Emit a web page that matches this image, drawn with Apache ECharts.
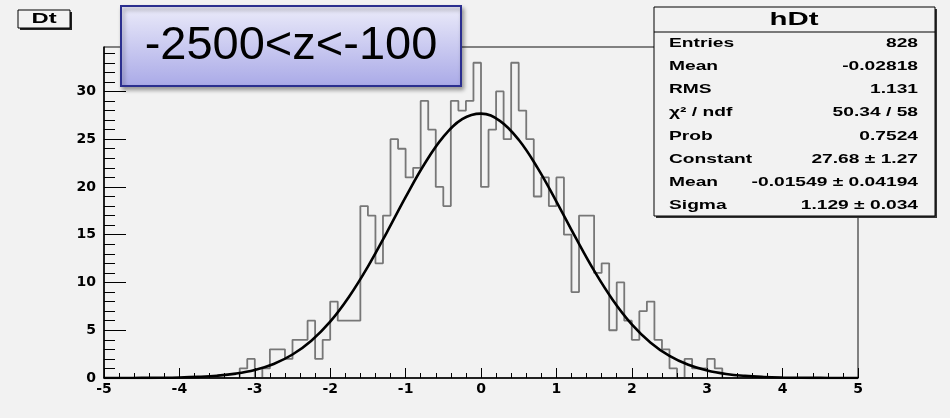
<!DOCTYPE html>
<html><head><meta charset="utf-8">
<script src="https://cdn.jsdelivr.net/npm/echarts@6/dist/echarts.min.js"></script>
<style>html,body{margin:0;padding:0;background:#f2f2f2}#c{width:950px;height:418px}</style>
</head><body><div id="c"></div>
<script>
// Histogram hDt: 100 bins from -5 to 5
const binLow = -5;
const binWidth = 0.1;
const counts = [
  0,0,0,0,0,0,0,0,0,0, 0,0,0,0,0,0,0,0,
  1,2,0,1,3,3,2,4,4,6,2,4,
  8,6,6,6,18,17,12,17,
  25,24,21,22,29,26,20,18,
  29,28,29,33,20,26,30,25,
  33,28,25,19,21,18,21,15,
  9,17,17,11,12,5,10,6,
  4,7,8,4,3,1,0,2,1,1,2,1,
  0,0,0,0,0,0,0,0,0,0, 0,0,0,0,0,0,0,0
];
// Gaussian fit curve
const fitX = [-5,-4.75,-4.5,-4.25,-4,-3.75,-3.5,-3.25,-3,-2.75,-2.5,-2.25,-2,-1.75,-1.5,-1.25,-1,-0.75,-0.5,-0.25,0,
  0.25,0.5,0.75,1,1.25,1.5,1.75,2,2.25,2.5,2.75,3,3.25,3.5,3.75,4,4.25,4.5,4.75,5];
const fitY = [0,0,0.01,0.02,0.05,0.12,0.24,0.46,0.84,1.47,2.46,3.91,5.90,8.51,11.66,15.23,18.93,22.40,25.24,27.09,27.68,
  26.92,24.94,21.99,18.47,14.77,11.24,8.15,5.62,3.70,2.31,1.38,0.78,0.42,0.22,0.11,0.05,0.02,0.01,0,0];
const xMin = -5, xMax = 5, xInterval = 1;
const yMax = 34.65;
const yMajorTicks = [0,5,10,15,20,25,30];
const yMinorTicks = [0,1,2,3,4,5,6,7,8,9,10,11,12,13,14,15,16,17,18,19,20,21,22,23,24,25,26,27,28,29,30,31,32,33,34];
const histTitle = 'Dt';
const rangeLabel = '-2500<z<-100';
const statsTitle = 'hDt';
const statLabels = ['Entries','Mean','RMS','\u03c7\u00b2 / ndf','Prob','Constant','Mean','Sigma'];
const statValues = ['828','-0.02818','1.131','50.34 / 58','0.7524','27.68 \u00b1 1.27','-0.01549 \u00b1 0.04194','1.129 \u00b1 0.034'];

const histData = counts.map((c, i) => [Math.round((binLow + i * binWidth) * 10) / 10, c]);
histData.push([xMax, 0]);
const fitData = fitX.map((x, i) => [x, fitY[i]]);

const chart = echarts.init(document.getElementById('c'), null, {renderer: 'canvas'});
const statFont = 'bold 12px "Liberation Sans", Arial, sans-serif';
const SX = 1.6;
const graphics = [
  // Dt title box
  {type: 'rect', z: 100, shape: {x: 20, y: 12, width: 52, height: 18}, style: {fill: '#222'}},
  {type: 'rect', z: 101, shape: {x: 18, y: 10, width: 52, height: 18}, style: {fill: '#f2f2f2', stroke: '#000', lineWidth: 1}},
  {type: 'text', z: 102, x: 44, y: 19.5, scaleX: 1.7, style: {text: histTitle, font: 'bold 14px "Liberation Sans", Arial, sans-serif', fill: '#000', textAlign: 'center', textVerticalAlign: 'middle'}},
  // blue range label
  {type: 'rect', z: 100, shape: {x: 121, y: 6, width: 340, height: 80},
    style: {fill: new echarts.graphic.LinearGradient(0, 0, 0, 1, [{offset: 0, color: '#ececfa'}, {offset: 1, color: '#a9a9e7'}]),
      stroke: '#2b2f8f', lineWidth: 2, shadowColor: 'rgba(0,0,0,0.35)', shadowBlur: 4, shadowOffsetX: 2, shadowOffsetY: 3}},
  {type: 'text', z: 101, x: 291, y: 46, style: {text: rangeLabel, font: '47px "Liberation Sans", Arial, sans-serif', fill: '#000', textAlign: 'center', textVerticalAlign: 'middle'}},
  // stats box
  {type: 'rect', z: 100, shape: {x: 656, y: 9, width: 281, height: 209}, style: {fill: '#333'}},
  {type: 'rect', z: 101, shape: {x: 654, y: 7, width: 281, height: 209}, style: {fill: '#f2f2f2', stroke: '#000', lineWidth: 1}},
  {type: 'line', z: 102, shape: {x1: 654, y1: 32, x2: 935, y2: 32}, style: {stroke: '#000', lineWidth: 1}},
  {type: 'text', z: 102, x: 794, y: 19.5, scaleX: 1.55, style: {text: statsTitle, font: 'bold 19px "Liberation Sans", Arial, sans-serif', fill: '#000', textAlign: 'center', textVerticalAlign: 'middle'}}
];
statLabels.forEach((lab, i) => {
  const y = 43.3 + i * 23.25;
  graphics.push({type: 'text', z: 102, x: 669, y: y, scaleX: SX, style: {text: lab, font: statFont, fill: '#000', textAlign: 'left', textVerticalAlign: 'middle'}});
  graphics.push({type: 'text', z: 102, x: 918, y: y, scaleX: SX, style: {text: statValues[i], font: statFont, fill: '#000', textAlign: 'right', textVerticalAlign: 'middle'}});
});

const labelStyle = {fontFamily: 'DejaVu Sans', fontWeight: 'bold', fontSize: 14, color: '#000'};
chart.setOption({
  backgroundColor: '#f2f2f2',
  animation: false,
  grid: {left: 104, right: 92, top: 47, bottom: 40, show: true, borderColor: '#111', borderWidth: 1, backgroundColor: 'transparent'},
  xAxis: {
    type: 'value', min: xMin, max: xMax, interval: xInterval, z: 5,
    axisLine: {show: true, onZero: false, lineStyle: {color: '#000', width: 1.5}},
    axisTick: {show: true, inside: true, length: 10, lineStyle: {color: '#000', width: 1}},
    minorTick: {show: true, splitNumber: 5, length: 5, lineStyle: {color: '#000', width: 1}},
    axisLabel: Object.assign({margin: 4}, labelStyle),
    splitLine: {show: false}, minorSplitLine: {show: false}
  },
  yAxis: [
    {
      type: 'value', min: 0, max: yMax, z: 5, position: 'left',
      axisLine: {show: true, onZero: false, lineStyle: {color: '#000', width: 1.5}},
      axisTick: {show: true, inside: true, length: 22, customValues: yMajorTicks, lineStyle: {color: '#000', width: 1}},
      axisLabel: Object.assign({margin: 8, customValues: yMajorTicks}, labelStyle),
      splitLine: {show: false}
    },
    {
      type: 'value', min: 0, max: yMax, position: 'left', offset: 0, z: 5,
      axisLine: {show: false, onZero: false},
      axisTick: {show: true, inside: true, length: 11, customValues: yMinorTicks, lineStyle: {color: '#000', width: 1}},
      axisLabel: {show: false, customValues: yMinorTicks},
      splitLine: {show: false}
    }
  ],
  series: [
    {type: 'line', step: 'end', data: histData, symbol: 'none', lineStyle: {color: '#777', width: 1.8}, z: 2},
    {type: 'line', smooth: 0.4, data: fitData, symbol: 'none', lineStyle: {color: '#000', width: 2.6}, z: 3}
  ],
  graphic: graphics
});
</script>
</body></html>
